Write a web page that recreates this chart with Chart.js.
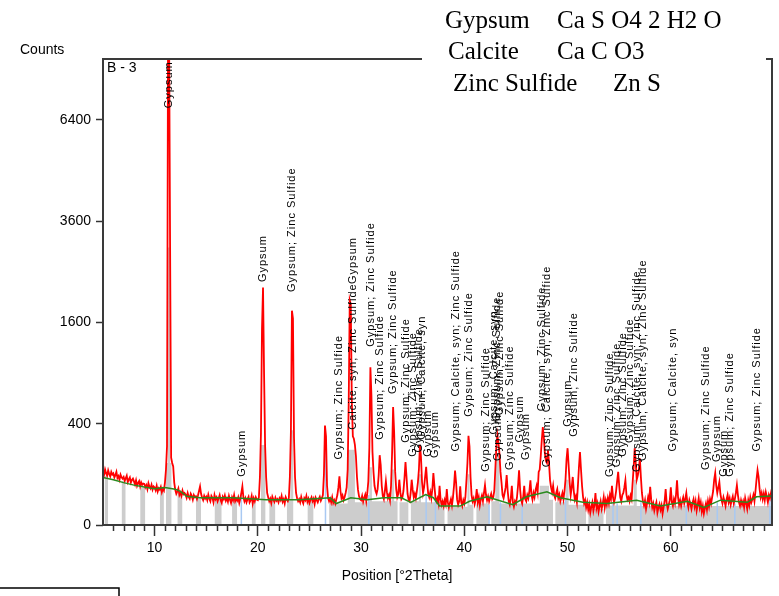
<!DOCTYPE html>
<html>
<head>
<meta charset="utf-8">
<title>B - 3</title>
<script src="https://cdn.jsdelivr.net/npm/chart.js@4.4.1/dist/chart.umd.min.js"></script>
<style>
  html, body { margin: 0; padding: 0; background: #fff; }
  #wrap { position: relative; width: 779px; height: 596px; }
</style>
</head>
<body>
<div id="wrap"><canvas id="xrd" width="779" height="596"></canvas></div>
<script>
// observed counts, one value every 0.1 deg starting at 5.0 deg (one row per degree)
const thetaStart = 5.0;
const thetaStep = 0.1;
const observedCounts = [
  112, 98, 120, 104, 95, 116, 101, 92, 110, 99,
  104, 88, 97, 110, 86, 93, 80, 99, 89, 84,
  90, 76, 85, 95, 72, 81, 88, 70, 79, 84,
  74, 64, 78, 60, 69, 75, 58, 71, 63, 67,
  66, 55, 62, 50, 68, 57, 52, 63, 49, 58,
  55, 47, 60, 44, 53, 49, 57, 42, 51, 46,
  70, 120, 241, 9500, 9500, 3000, 177, 150, 134, 70,
  48, 38, 44, 52, 35, 41, 33, 46, 37, 40,
  36, 29, 40, 31, 27, 38, 33, 25, 35, 30,
  32, 26, 34, 45, 58, 38, 29, 24, 33, 27,
  31, 24, 36, 27, 22, 33, 29, 20, 35, 26,
  30, 22, 28, 35, 24, 19, 31, 26, 34, 23,
  28, 21, 33, 25, 19, 30, 24, 35, 22, 27,
  23, 30, 19, 27, 40, 58, 30, 22, 28, 20,
  26, 31, 20, 24, 33, 18, 28, 22, 30, 25,
  24, 30, 90, 330, 1500, 2200, 900, 250, 90, 40,
  30, 22, 27, 19, 31, 25, 21, 29, 23, 26,
  20, 28, 24, 33, 21, 26, 18, 30, 25, 22,
  28, 90, 337, 1790, 1660, 300, 90, 40, 28, 22,
  26, 20, 31, 23, 18, 28, 24, 33, 21, 27,
  19, 25, 30, 22, 27, 17, 29, 24, 20, 26,
  31, 23, 28, 35, 100, 385, 306, 60, 29, 22,
  27, 20, 30, 19, 24, 18, 26, 35, 55, 92,
  45, 28, 34, 24, 30, 40, 55, 120, 583, 1970,
  1900, 600, 306, 290, 250, 184, 90, 48, 32, 26,
  24, 33, 21, 29, 36, 22, 40, 74, 233, 970,
  655, 211, 110, 60, 45, 38, 50, 95, 190, 140,
  60, 33, 26, 45, 74, 42, 28, 35, 24, 60,
  200, 542, 337, 110, 50, 30, 38, 80, 42, 26,
  30, 45, 85, 155, 90, 38, 25, 22, 40, 80,
  48, 30, 38, 28, 45, 70, 120, 251, 180, 72,
  40, 55, 90, 132, 70, 38, 30, 42, 28, 50,
  105, 60, 30, 22, 28, 18, 60, 25, 16, 22,
  14, 24, 17, 50, 20, 12, 19, 26, 15, 30,
  60, 115, 70, 25, 16, 22, 58, 20, 14, 24,
  18, 30, 75, 150, 310, 240, 90, 35, 22, 28,
  17, 25, 50, 20, 30, 15, 26, 34, 22, 40,
  62, 35, 24, 32, 22, 30, 38, 26, 30, 45,
  120, 240, 314, 261, 200, 110, 70, 35, 28, 40,
  55, 97, 45, 22, 16, 28, 60, 20, 13, 22,
  18, 30, 60, 117, 50, 24, 18, 30, 60, 26,
  22, 35, 28, 45, 78, 36, 25, 40, 30, 48,
  60, 42, 110, 120, 184, 280, 374, 302, 200, 160,
  150, 218, 151, 78, 55, 42, 60, 35, 28, 40,
  50, 28, 36, 22, 30, 40, 26, 45, 80, 170,
  230, 140, 70, 35, 55, 90, 45, 25, 32, 20,
  60, 130, 208, 120, 60, 30, 18, 24, 12, 20,
  9, 16, 6, 13, 20, 8, 15, 40, 11, 18,
  7, 14, 22, 10, 17, 30, 12, 24, 16, 28,
  18, 35, 26, 60, 30, 20, 28, 45, 75, 110,
  60, 30, 22, 35, 40, 55, 78, 36, 25, 30,
  22, 34, 26, 70, 130, 230, 150, 80, 95, 120,
  174, 90, 40, 22, 15, 24, 10, 18, 30, 20,
  57, 25, 12, 18, 8, 14, 20, 6, 12, 17,
  9, 15, 5, 12, 22, 50, 18, 10, 16, 24,
  55, 20, 14, 26, 18, 35, 78, 30, 16, 24,
  14, 22, 30, 18, 26, 40, 20, 12, 24, 17,
  10, 19, 26, 13, 22, 8, 16, 28, 12, 20,
  7, 14, 5, 11, 18, 9, 22, 13, 26, 18,
  30, 45, 80, 105, 60, 40, 55, 72, 38, 25,
  18, 30, 22, 14, 26, 35, 20, 28, 16, 24,
  32, 18, 26, 40, 62, 35, 20, 14, 24, 16,
  22, 12, 28, 18, 10, 24, 15, 30, 20, 26,
  35, 22, 45, 80, 117, 90, 50, 30, 40, 26,
  38, 24, 42, 31, 20, 35, 28, 40, 30
];

// fitted background (green)
const backgroundTheta = [5, 6, 7, 8, 9, 10, 11, 12, 12.5, 13.1, 14.4, 17.6, 20.8, 24, 27, 27.6, 29, 30.6, 32.2, 33.9,
  34.8, 36.25, 37, 37.6, 39.6, 40.5, 42.2, 44.7, 46, 48, 49.3, 51.5, 53.8, 56.7, 59, 61.6, 63.2, 64.8, 67.4, 68.3, 69.8];
const backgroundCounts = [88, 80, 70, 62, 56, 51, 55, 50, 44, 32, 29, 29, 25, 25, 29, 18, 29, 25, 29, 29,
  20, 36, 29, 14, 14, 22, 31, 16, 31, 43, 29, 20, 18, 24, 14, 22, 12, 24, 20, 31, 33];

// grey profile bands: [from deg, to deg, counts]
const greyBands = [
  [5.15, 5.5, 95], [6.8, 7.2, 75], [8.6, 9.1, 55], [10.5, 10.9, 45],
  [11.1, 11.3, 150], [11.3, 11.5, 3000], [11.5, 11.65, 150], [12.2, 12.7, 40],
  [14.0, 14.5, 28], [15.8, 16.5, 26], [17.5, 18.0, 25], [19.4, 19.8, 24],
  [20.3, 20.75, 250], [21.1, 21.7, 23], [22.8, 23.15, 24], [23.15, 23.45, 350], [24.8, 25.4, 22],
  [26.9, 28.7, 18], [28.7, 29.4, 220], [29.4, 30.8, 20], [30.8, 31.05, 130], [31.05, 32.95, 22],
  [32.95, 33.2, 120], [33.2, 33.55, 22], [33.7, 34.6, 20], [34.8, 35.6, 22], [35.6, 35.8, 100],
  [35.8, 38.1, 20], [38.35, 40.3, 13], [40.3, 40.5, 100], [40.5, 40.9, 16], [41.15, 42.4, 18],
  [42.6, 43.0, 22], [43.0, 43.4, 200], [43.4, 47.3, 18], [47.3, 48.2, 60], [48.2, 48.6, 25],
  [48.8, 49.8, 20], [49.8, 50.1, 80], [50.1, 51.8, 16], [52.0, 53.5, 10], [53.7, 56.4, 15],
  [56.4, 56.7, 80], [56.7, 69.8, 14]
];

// reference line markers (light blue)
const markerTheta = [18.4, 26.55, 30.75, 36.3, 37.2, 42.4, 43.5, 45.6, 49.8, 54.4, 54.8, 57.1, 61.5, 64.5, 66.2, 69.6];
const markerCounts = [40, 300, 35, 38, 30, 16, 20, 20, 25, 18, 18, 20, 16, 20, 18, 25];

// phase labels: position, counts at the start of the text, text
const labelTheta = [11.4, 18.5, 20.5, 23.3, 27.9, 29.2, 29.2, 31.0, 31.8, 33.1, 34.3, 35.0, 35.6, 35.9, 36.5, 37.2,
  39.2, 40.4, 42.1, 42.9, 43.2, 43.45, 43.3, 44.4, 45.4, 46.0, 47.5, 48.0, 50.0, 50.6,
  54.1, 54.75, 55.4, 56.0, 56.7, 57.3, 60.25, 63.4, 64.5, 65.1, 65.75, 68.3];
const labelCounts = [6770, 91, 2300, 2117, 167, 354, 2264, 1238, 284, 670, 264, 182, 205, 284, 182, 175,
  210, 457, 111, 320, 420, 470, 160, 118, 265, 165, 505, 130, 377, 304,
  90, 130, 182, 262, 110, 160, 210, 118, 155, 91, 91, 210];
const labelText = ['Gypsum', 'Gypsum', 'Gypsum', 'Gypsum; Zinc Sulfide', 'Gypsum; Zinc Sulfide',
  'Calcite, syn; Zinc Sulfide', 'Gypsum', 'Gypsum; Zinc Sulfide', 'Gypsum; Zinc Sulfide', 'Gypsum; Zinc Sulfide',
  'Gypsum; Zinc Sulfide', 'Gypsum; Zinc Sulfide', 'Gypsum; Zinc Sulfide', 'Gypsum; Calcite, syn', 'Gypsum', 'Gypsum',
  'Gypsum; Calcite, syn; Zinc Sulfide', 'Gypsum; Zinc Sulfide', 'Gypsum; Zinc Sulfide', 'Gypsum; Calcite, syn',
  'Gypsum; Zinc Sulfide', 'Gypsum; Zinc Sulfide', 'Gypsum', 'Gypsum; Zinc Sulfide', 'Gypsum', 'Gypsum',
  'Gypsum; Zinc Sulfide', 'Gypsum; Calcite, syn; Zinc Sulfide', 'Gypsum', 'Gypsum; Zinc Sulfide',
  'Gypsum; Zinc Sulfide', 'Gypsum; Zinc Sulfide', 'Gypsum; Zinc Sulfide', 'Gypsum; Zinc Sulfide',
  'Gypsum; Calcite, syn; Zinc Sulfide', 'Gypsum; Calcite, syn; Zinc Sulfide', 'Gypsum; Calcite, syn',
  'Gypsum; Zinc Sulfide', 'Gypsum', 'Gypsum', 'Gypsum; Zinc Sulfide', 'Gypsum; Zinc Sulfide'];

const xTickValues = [10, 20, 30, 40, 50, 60];
const yTickCounts = [0, 400, 1600, 3600, 6400];
const phaseNames = ['Gypsum', 'Calcite', 'Zinc Sulfide'];
const phaseFormulas = ['Ca S O4 2 H2 O', 'Ca C O3', 'Zn S'];

// counts axis is square-root scaled
const root = c => (c === null ? null : Math.sqrt(c));

const observedPoints = observedCounts.map((c, i) => ({
  x: Math.round((thetaStart + i * thetaStep) * 10) / 10,
  y: root(c)
}));
const backgroundPoints = backgroundTheta.map((t, i) => ({ x: t, y: root(backgroundCounts[i]) }));

const greyPoints = [];
greyBands.forEach(([a, b, c], i) => {
  greyPoints.push({ x: a, y: root(c) }, { x: b, y: root(c) });
  const next = greyBands[i + 1];
  if (!next || next[0] > b) greyPoints.push({ x: b, y: null });
});

const markerPoints = [];
markerTheta.forEach((t, i) => {
  markerPoints.push({ x: t, y: 0 }, { x: t, y: root(markerCounts[i]) }, { x: t, y: null });
});

const sansFont = '"Liberation Sans", Arial, sans-serif';

const decorations = {
  id: 'decorations',
  afterDatasetsDraw(chart) {
    const { ctx, scales: { x, y } } = chart;
    ctx.save();
    ctx.font = '11px ' + sansFont;
    if ('letterSpacing' in ctx) ctx.letterSpacing = '1px';
    ctx.fillStyle = '#000';
    ctx.textAlign = 'left';
    ctx.textBaseline = 'middle';
    labelText.forEach((t, i) => {
      const px = x.getPixelForValue(labelTheta[i]);
      const py = y.getPixelForValue(root(labelCounts[i]));
      ctx.save();
      ctx.translate(px, py);
      ctx.rotate(-Math.PI / 2);
      ctx.fillText(t, 0, 0);
      ctx.restore();
    });
    ctx.restore();

    // minor ticks every degree
    ctx.save();
    ctx.strokeStyle = '#333';
    ctx.lineWidth = 1.5;
    const base = chart.chartArea.bottom;
    for (let d = 6; d < 70; d++) {
      if (d % 10 === 0) continue;
      const px = Math.round(x.getPixelForValue(d)) + 0.5;
      ctx.beginPath();
      ctx.moveTo(px, base);
      ctx.lineTo(px, base + 6);
      ctx.stroke();
    }
    ctx.restore();
  },
  afterDraw(chart) {
    const { ctx, chartArea: a } = chart;
    ctx.save();
    ctx.strokeStyle = '#3a3a3a';
    ctx.lineWidth = 2;
    ctx.strokeRect(a.left, a.top, a.right - a.left, a.bottom - a.top);

    // phase formula box
    ctx.fillStyle = '#fff';
    ctx.fillRect(422, 0, 344, 100);
    ctx.fillStyle = '#000';
    ctx.font = '25px "Liberation Serif", "Times New Roman", serif';
    ctx.textBaseline = 'alphabetic';
    ctx.textAlign = 'left';
    const nameX = [445, 448, 453];
    const formulaX = [557, 557, 613];
    const baseY = [28, 59, 91];
    phaseNames.forEach((n, i) => {
      ctx.fillText(n, nameX[i], baseY[i]);
      ctx.fillText(phaseFormulas[i], formulaX[i], baseY[i]);
    });

    ctx.font = '14px ' + sansFont;
    ctx.textBaseline = 'middle';
    ctx.fillText('Counts', 20, 50);
    ctx.fillText('B - 3', 107, 68);
    ctx.textAlign = 'center';
    ctx.fillText('Position [°2Theta]', 397, 576);

    ctx.strokeStyle = '#000';
    ctx.lineWidth = 1.5;
    ctx.beginPath();
    ctx.moveTo(0, 588);
    ctx.lineTo(119, 588);
    ctx.lineTo(119, 596);
    ctx.stroke();
    ctx.restore();
  }
};

new Chart(document.getElementById('xrd'), {
  type: 'line',
  data: {
    datasets: [
      {
        label: 'Background',
        data: backgroundPoints,
        borderColor: '#2a8a1e',
        borderWidth: 1.5,
        pointRadius: 0,
        order: 0
      },
      {
        label: 'B - 3',
        data: observedPoints,
        borderColor: '#ff0000',
        borderWidth: 1.8,
        pointRadius: 0,
        order: 1
      },
      {
        label: 'Markers',
        data: markerPoints,
        borderColor: '#a9c9f2',
        borderWidth: 1.5,
        pointRadius: 0,
        spanGaps: false,
        order: 2
      },
      {
        label: 'Profile',
        data: greyPoints,
        borderWidth: 0,
        borderColor: 'rgba(0,0,0,0)',
        backgroundColor: '#cdcdcd',
        fill: 'origin',
        pointRadius: 0,
        spanGaps: false,
        order: 3
      }
    ]
  },
  options: {
    responsive: false,
    animation: false,
    devicePixelRatio: 1,
    layout: { padding: { top: 59, right: 7, left: 0, bottom: 0 } },
    plugins: { legend: { display: false }, tooltip: { enabled: false }, title: { display: false } },
    elements: { line: { tension: 0 } },
    scales: {
      x: {
        type: 'linear',
        min: 5,
        max: 69.8,
        afterBuildTicks: s => { s.ticks = xTickValues.map(v => ({ value: v })); },
        afterFit: s => { s.height = 71; },
        border: { display: false },
        grid: { drawOnChartArea: false, drawTicks: true, tickLength: 11, tickColor: '#333', tickWidth: 1.5 },
        ticks: { color: '#000', font: { family: sansFont, size: 14 }, padding: 4, maxRotation: 0, autoSkip: false, callback: v => String(v) }
      },
      y: {
        type: 'linear',
        min: 0,
        max: 92,
        afterBuildTicks: s => { s.ticks = yTickCounts.map(c => ({ value: root(c) })); },
        afterFit: s => { s.width = 103; },
        border: { display: false },
        grid: { drawOnChartArea: false, drawTicks: true, tickLength: 7, tickColor: '#333', tickWidth: 1.5 },
        ticks: { color: '#000', font: { family: sansFont, size: 14 }, padding: 5, callback: v => String(Math.round(v * v)) }
      }
    }
  },
  plugins: [decorations]
});
</script>
</body>
</html>
